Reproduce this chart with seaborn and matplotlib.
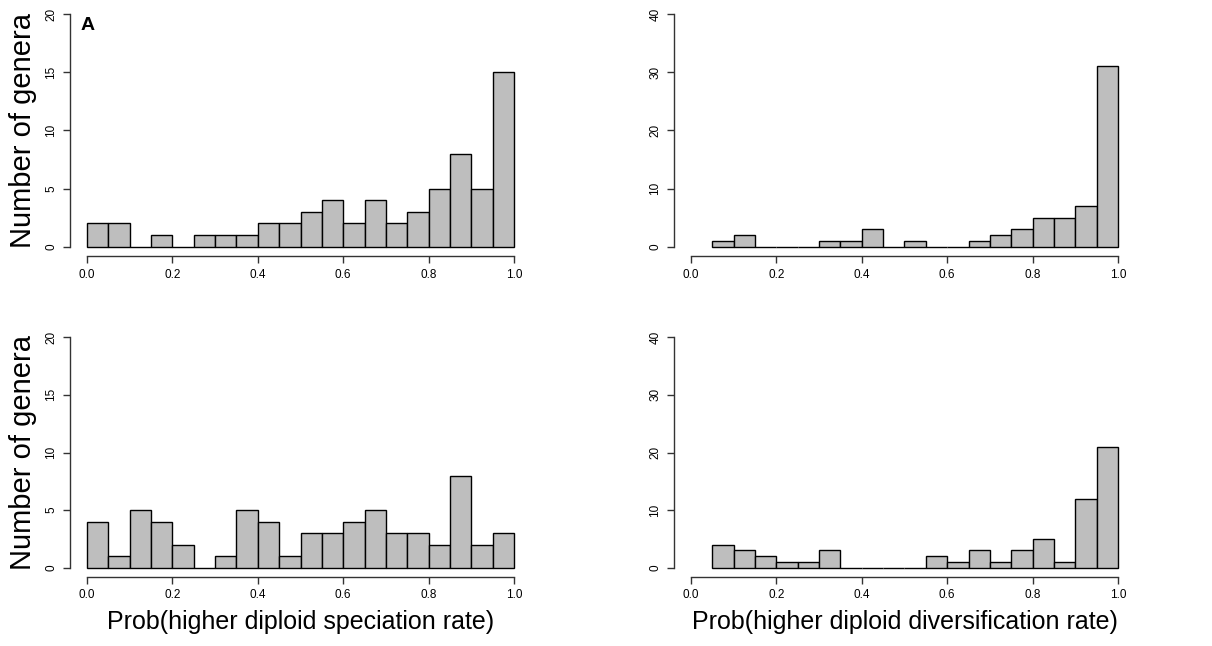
import matplotlib
matplotlib.use('Agg')
import matplotlib.pyplot as plt
import seaborn as sns
import numpy as np
import pandas as pd

# bin counts (bin width 0.05)
spec_top_start = 0.0
spec_top = [2, 2, 0, 1, 0, 1, 1, 1, 2, 2, 3, 4, 2, 4, 2, 3, 5, 8, 5, 15]
div_top_start = 0.05
div_top = [1, 2, 0, 0, 0, 1, 1, 3, 0, 1, 0, 0, 1, 2, 3, 5, 5, 7, 31]
spec_bot_start = 0.0
spec_bot = [4, 1, 5, 4, 2, 0, 1, 5, 4, 1, 3, 3, 4, 5, 3, 3, 2, 8, 2, 3]
div_bot_start = 0.05
div_bot = [4, 3, 2, 1, 1, 3, 0, 0, 0, 0, 2, 1, 3, 1, 3, 5, 1, 12, 21]

bin_width = 0.05
x_ticks = [0.0, 0.2, 0.4, 0.6, 0.8, 1.0]
y_ticks_spec = [0, 5, 10, 15, 20]
y_ticks_div = [0, 10, 20, 30, 40]
ylabel = "Number of genera"
xlabel_spec = "Prob(higher diploid speciation rate)"
xlabel_div = "Prob(higher diploid diversification rate)"

sns.set_style("white")
plt.rcParams['font.family'] = ['Liberation Sans', 'DejaVu Sans']
plt.rcParams.update({"text.color": "black", "axes.labelcolor": "black",
                     "xtick.color": "black", "ytick.color": "black"})

fig = plt.figure(figsize=(12.12, 6.46), dpi=100)

W, H = 1212, 646


def make_ax(left_px, top_px, right_px, bottom_px):
    return fig.add_axes([left_px / W, 1 - bottom_px / H,
                         (right_px - left_px) / W, (bottom_px - top_px) / H])


def draw(ax, start, counts, yticks, ylab=None, xlab=None):
    n = len(counts)
    centers = start + bin_width * (np.arange(n) + 0.5)
    df = pd.DataFrame({"p": centers, "n": counts})
    sns.histplot(data=df, x="p", weights="n", bins=n, binrange=(start, 1.0),
                 ax=ax, color="#BEBEBE", edgecolor="black", linewidth=1.0,
                 alpha=1.0)
    ymax = yticks[-1]
    ax.set_xlim(-0.04, 1.04)
    ax.set_ylim(-0.04 * ymax, 1.04 * ymax)
    for s in ["top", "right"]:
        ax.spines[s].set_visible(False)
    ax.spines["left"].set_bounds(0, ymax)
    ax.spines["bottom"].set_bounds(0, 1)
    for s in ["left", "bottom"]:
        ax.spines[s].set_color("#333333")
        ax.spines[s].set_linewidth(1.0)
    ax.set_xticks(x_ticks)
    ax.set_xticklabels([f"{t:.1f}" for t in x_ticks])
    ax.set_yticks(yticks)
    ax.set_yticklabels([str(t) for t in yticks], rotation=90, va="center")
    ax.tick_params(axis="both", direction="out", length=5, width=1.0,
                   color="#333333", labelcolor="black", labelsize=8.5, pad=4,
                   bottom=True, left=True)
    ax.set_ylabel(ylab if ylab else "", fontsize=21, labelpad=6)
    ax.set_xlabel(xlab if xlab else "", fontsize=18, labelpad=6)
    ax.grid(False)


ax1 = make_ax(70, 4.7, 531, 256)
ax2 = make_ax(674, 4.7, 1135, 256)
ax3 = make_ax(70, 328, 531, 577)
ax4 = make_ax(674, 328, 1135, 577)

draw(ax1, spec_top_start, spec_top, y_ticks_spec, ylab=ylabel)
draw(ax2, div_top_start, div_top, y_ticks_div)
draw(ax3, spec_bot_start, spec_bot, y_ticks_spec, ylab=ylabel, xlab=xlabel_spec)
draw(ax4, div_bot_start, div_bot, y_ticks_div, xlab=xlabel_div)

ax1.text(-0.015, 19.0, "A", ha="left", va="center", fontsize=14, fontweight="bold")

fig.savefig("out.png", dpi=100)
